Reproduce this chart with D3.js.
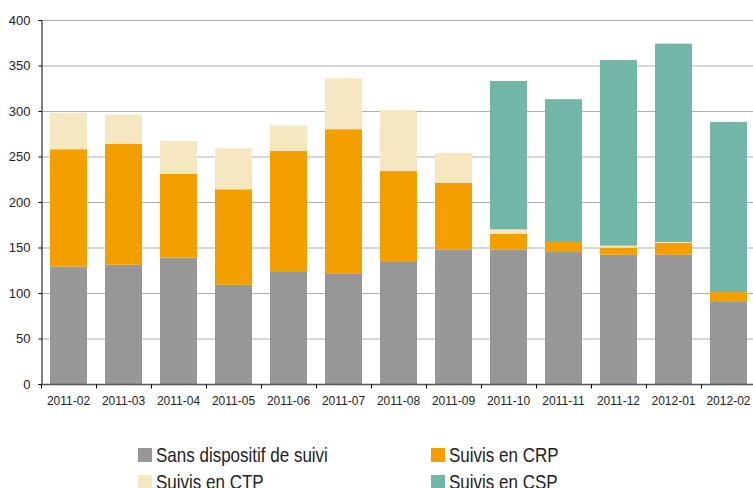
<!DOCTYPE html>
<html>
<head>
<meta charset="utf-8">
<script src="https://cdn.jsdelivr.net/npm/d3@7"></script>
<style>
  body { margin: 0; background: #fff; overflow: hidden; }
  text { font-family: "Liberation Sans", Arial, sans-serif; fill: #222; }
</style>
</head>
<body>
<div id="chart"></div>
<script>
const months = ["2011-02", "2011-03", "2011-04", "2011-05", "2011-06", "2011-07", "2011-08",
                "2011-09", "2011-10", "2011-11", "2011-12", "2012-01", "2012-02"];
const sansDispositif = [129, 131, 139, 109, 124, 121, 135, 148, 148, 145, 142, 142, 91];
const suivisCRP = [129, 133, 92, 105, 132, 159, 99, 73, 17, 11, 8, 13, 10];
const suivisCTP = [40, 32, 36, 45, 28, 56, 67, 33, 5, 0, 2, 1, 0];
const suivisCSP = [0, 0, 0, 0, 0, 0, 0, 0, 163, 157, 204, 218, 187];
const seriesNames = ["Sans dispositif de suivi", "Suivis en CRP", "Suivis en CTP", "Suivis en CSP"];
const yTicks = [0, 50, 100, 150, 200, 250, 300, 350, 400];

const w = 753, h = 488;
const margin = { top: 20, left: 41 };
const plotBottom = 384;
const colors = ["#979797", "#f39f00", "#f5e7bf", "#72b6a8"];

const rows = months.map((m, i) => ({
  month: m,
  s0: sansDispositif[i], s1: suivisCRP[i], s2: suivisCTP[i], s3: suivisCSP[i]
}));
const stack = d3.stack().keys(["s0", "s1", "s2", "s3"])(rows);

// the plot runs a little past the right edge of the window
const x = d3.scaleBand().domain(months).range([margin.left, 756])
  .paddingInner(0.327).paddingOuter(0.164);
const y = d3.scaleLinear().domain([0, 400]).range([plotBottom, margin.top]);

const svg = d3.select("#chart").append("svg").attr("width", w).attr("height", h);

// gridlines
svg.append("g")
  .selectAll("line")
  .data(yTicks.slice(1))
  .enter().append("line")
  .attr("x1", margin.left).attr("x2", w)
  .attr("y1", d => y(d) + 0.5).attr("y2", d => y(d) + 0.5)
  .attr("stroke", "#b0b0b0").attr("stroke-width", 1.2);

// bars
svg.append("g")
  .selectAll("g")
  .data(stack)
  .enter().append("g")
  .attr("fill", (d, i) => colors[i])
  .selectAll("rect")
  .data(d => d)
  .enter().append("rect")
  .attr("x", d => x(d.data.month))
  .attr("width", x.bandwidth())
  .attr("y", d => y(d[1]))
  .attr("height", d => y(d[0]) - y(d[1]));

// y axis
const yAxis = d3.axisLeft(y).tickValues(yTicks).tickSize(3).tickPadding(8);
const gy = svg.append("g")
  .attr("transform", "translate(" + (margin.left + 0.5) + ",0)")
  .call(yAxis);
gy.select(".domain").attr("stroke", "#000");
gy.selectAll(".tick line").attr("stroke", "#000");
gy.selectAll("text").attr("font-size", "13px").attr("fill", "#222");

// x axis with ticks at category boundaries
const xLine = svg.append("g").attr("transform", "translate(0," + (plotBottom + 0.5) + ")");
xLine.append("line").attr("x1", margin.left).attr("x2", w)
  .attr("stroke", "#555").attr("stroke-width", 1.5);
const step = x.step();
xLine.selectAll(".bt")
  .data(d3.range(months.length + 1))
  .enter().append("line")
  .attr("x1", i => margin.left + 0.5 + i * step)
  .attr("x2", i => margin.left + 0.5 + i * step)
  .attr("y1", 0).attr("y2", 4)
  .attr("stroke", "#000");
xLine.selectAll("text")
  .data(months)
  .enter().append("text")
  .attr("x", d => x(d) + x.bandwidth() / 2)
  .attr("y", 20.5)
  .attr("text-anchor", "middle")
  .attr("font-size", "12px")
  .text(d => d);

// legend, text is a bit tall and narrow in the original
const legendPos = [[138, 448], [431, 448], [138, 475], [431, 475]];
const legend = svg.append("g");
seriesNames.forEach((name, i) => {
  const [lx, ly] = legendPos[i];
  legend.append("rect").attr("x", lx).attr("y", ly).attr("width", 14).attr("height", 14)
    .attr("fill", colors[i]);
  legend.append("text")
    .attr("transform", "translate(" + (lx + 18) + "," + (ly + 14) + ") scale(1,1.2)")
    .attr("font-size", "17px").text(name);
});
</script>
</body>
</html>
